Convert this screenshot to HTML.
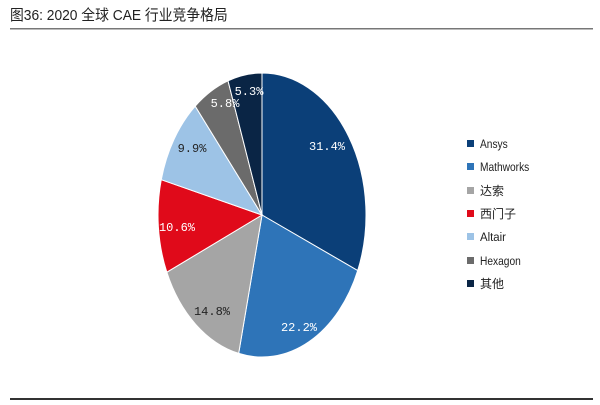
<!DOCTYPE html>
<html><head><meta charset="utf-8"><style>
body{margin:0;background:#fff;width:600px;height:400px;overflow:hidden;font-family:"Liberation Sans","Noto Sans CJK SC",sans-serif}
</style></head><body>
<svg width="600" height="400" xmlns="http://www.w3.org/2000/svg" id="s">
<text x="10" y="20" font-size="15" fill="#222" font-family="Liberation Sans,Noto Sans CJK SC,sans-serif" transform="translate(10 0) scale(0.92 1) translate(-10 0)">图36: 2020 全球 CAE 行业竞争格局</text>
<rect x="10" y="28" width="583" height="1.5" fill="#777"/>
<rect x="10" y="398" width="583" height="2" fill="#333"/>
<g id="pie"></g>
<g font-size="12" fill="#222" font-family="Liberation Sans,Noto Sans CJK SC,sans-serif">
<rect x="467" y="140" width="7" height="7" fill="#0b3f78"/><text x="480" y="148" transform="translate(480 0) scale(0.85 1) translate(-480 0)">Ansys</text>
<rect x="467" y="163" width="7" height="7" fill="#2e74b8"/><text x="480" y="171" transform="translate(480 0) scale(0.85 1) translate(-480 0)">Mathworks</text>
<rect x="467" y="187" width="7" height="7" fill="#a5a5a5"/><text x="480" y="195">达索</text>
<rect x="467" y="210" width="7" height="7" fill="#e00a1a"/><text x="480" y="218">西门子</text>
<rect x="467" y="233" width="7" height="7" fill="#9dc3e6"/><text x="480" y="241" transform="translate(480 0) scale(0.95 1) translate(-480 0)">Altair</text>
<rect x="467" y="257" width="7" height="7" fill="#6b6b6b"/><text x="480" y="265" transform="translate(480 0) scale(0.85 1) translate(-480 0)">Hexagon</text>
<rect x="467" y="280" width="7" height="7" fill="#0a2545"/><text x="480" y="288">其他</text>
</g>
<g font-size="12" font-family="Liberation Mono,monospace" text-anchor="middle">
<text x="327" y="150" fill="#fff">31.4%</text>
<text x="299" y="331" fill="#fff">22.2%</text>
<text x="212" y="315" fill="#222">14.8%</text>
<text x="177" y="231" fill="#fff">10.6%</text>
<text x="192" y="152" fill="#222">9.9%</text>
<text x="225" y="107" fill="#fff">5.8%</text>
<text x="249" y="95" fill="#fff">5.3%</text>
</g>
</svg>
<script>
var d=[[31.4,"#0b3f78"],[22.2,"#2e74b8"],[14.8,"#a5a5a5"],[10.6,"#e00a1a"],[9.9,"#9dc3e6"],[5.8,"#6b6b6b"],[5.3,"#0a2545"]];
var cx=262,cy=215,rx=104,ry=142,a=0,h="";
function p(t){return [cx+rx*Math.sin(t),cy-ry*Math.cos(t)];}
d.forEach(function(s){var b=a+s[0]/100*2*Math.PI,p1=p(a),p2=p(b),l=(b-a)>Math.PI?1:0;
h+='<path d="M'+cx+','+cy+'L'+p1[0]+','+p1[1]+'A'+rx+','+ry+' 0 '+l+' 1 '+p2[0]+','+p2[1]+'Z" fill="'+s[1]+'" stroke="#fff" stroke-width="1"/>';a=b;});
document.getElementById("pie").innerHTML=h;
</script>
</body></html>
